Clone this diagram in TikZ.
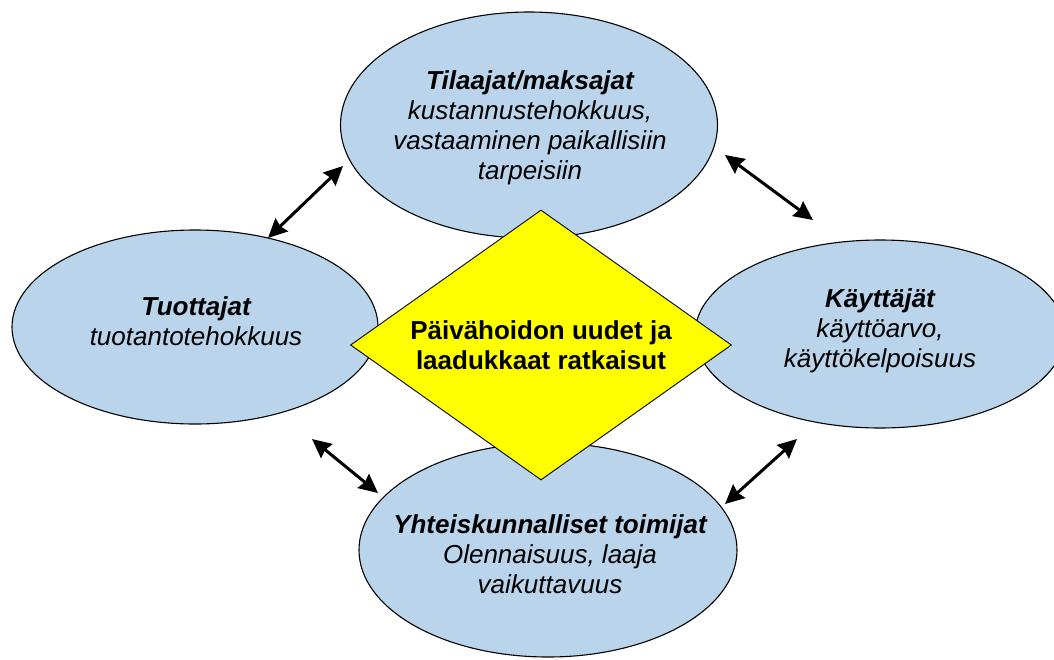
\documentclass[tikz,border=0pt]{standalone}
\usepackage{fontspec}
\setmainfont{Liberation Sans}
\usetikzlibrary{shapes.geometric,arrows.meta}
\definecolor{blueF}{RGB}{185,212,235}
\definecolor{yelF}{RGB}{255,255,0}
\tikzset{
  blob/.style={ellipse, draw=black, line width=1.1pt, fill=blueF, inner sep=0pt},
  lbl/.style={align=center, inner sep=0pt, font=\fontsize{26}{30}\selectfont\itshape},
  arr/.style={line width=3pt, {Stealth[length=19pt,width=18pt,inset=2pt]}-{Stealth[length=19pt,width=18pt,inset=2pt]}},
}
\begin{document}
\begin{tikzpicture}[x=1pt,y=-1pt]
\useasboundingbox (0,0) rectangle (1054,659);
% ellipses
\node[blob, minimum width=377pt, minimum height=226pt] (T) at (529,125) {};
\node[blob, minimum width=366pt, minimum height=194pt] (L) at (195,327) {};
\node[blob, minimum width=370pt, minimum height=188pt] (R) at (880,334) {};
\node[blob, minimum width=378pt, minimum height=214pt] (B) at (548,550) {};
% diamond
\node[diamond, draw=black, line width=0.9pt, fill=yelF, aspect=1.41, minimum width=381pt, minimum height=270pt, inner sep=0pt, align=center, font=\fontsize{26}{30}\selectfont\bfseries] (D) at (541,345) {Päivähoidon uudet ja\\laadukkaat ratkaisut};
% texts
\node[lbl] (Tt) at (530,128) {\textbf{Tilaajat/maksajat}\\kustannustehokkuus,\\vastaaminen paikallisiin\\tarpeisiin};
\node[lbl] (Lt) at (196,321) {\textbf{Tuottajat}\\tuotantotehokkuus};
\node[lbl] (Rt) at (880,331) {\textbf{Käyttäjät}\\käyttöarvo,\\käyttökelpoisuus};
\node[lbl] (Bt) at (550,554) {\textbf{Yhteiskunnalliset toimijat}\\Olennaisuus, laaja\\vaikuttavuus};
% arrow end points
\coordinate (a1) at (268,238);
\coordinate (a2) at (343,166);
\coordinate (b1) at (725,155);
\coordinate (b2) at (813,220);
\coordinate (c1) at (312,439);
\coordinate (c2) at (378,493);
\coordinate (d1) at (797,439);
\coordinate (d2) at (725,504);
\draw[arr] (a1) -- (a2);
\draw[arr] (b1) -- (b2);
\draw[arr] (c1) -- (c2);
\draw[arr] (d1) -- (d2);
\end{tikzpicture}
\end{document}
